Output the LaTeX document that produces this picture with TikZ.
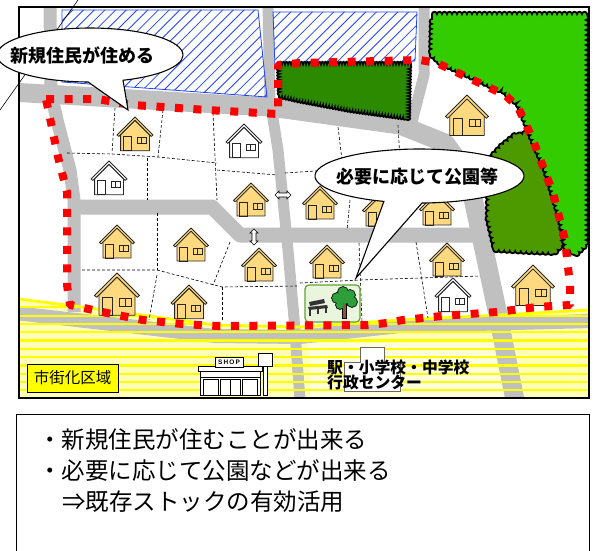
\documentclass[tikz,border=0pt]{standalone}
\usepackage{fontspec}
\newfontfamily\jp{Noto Sans CJK JP}
\newfontfamily\shopfont{Liberation Sans}
\usetikzlibrary{decorations.pathmorphing,shapes.arrows}

\definecolor{roadgray}{HTML}{C0C0C0}
\definecolor{hyellow}{HTML}{FFD980}
\definecolor{zonefill}{HTML}{FFFFB8}
\definecolor{zonelight}{HTML}{FFFFDC}
\definecolor{zoneline}{HTML}{FFFF00}
\definecolor{hatchblue}{HTML}{2244FF}
\definecolor{forest}{HTML}{33CC00}
\definecolor{hedge}{HTML}{2B8A00}
\definecolor{grove}{HTML}{4D9A00}
\definecolor{parkfill}{HTML}{E9F6DD}
\definecolor{parkline}{HTML}{5FA332}
\definecolor{crown}{HTML}{2E9E3A}
\definecolor{trunk}{HTML}{8B5A2B}
\definecolor{labelyellow}{HTML}{FFFF00}

\tikzset{
  roadway/.style={draw=roadgray, line width=#1, line join=round},
  roadway/.default=12,
  lot/.style={draw=black, line width=0.6pt, dash pattern=on 3pt off 2pt},
  boundary/.style={draw=red, line width=8pt, dash pattern=on 8pt off 10.5pt, line join=bevel},
  hatchline/.style={draw=hatchblue, line width=0.8pt},
  greenedge/.style={draw=black, line width=1.8pt, decorate,
    decoration={bumps, segment length=#1, amplitude=2.2pt}},
  greenedge/.default=9pt,
  bubble/.style={draw=black, line width=1.1pt, fill=white},
  pics/house/.style={code={
    \filldraw[fill=#1, draw=black!85, line width=0.8pt, line join=round]
      (-0.4,0.49) -- (0,0.09) -- (0.4,0.49) -- (0.4,0.94) -- (-0.4,0.94) -- cycle;
    \filldraw[fill=#1, draw=black!85, line width=0.8pt, line join=round]
      (-0.5,0.5) -- (0,0) -- (0.5,0.5) -- (0.45,0.54) -- (0,0.09) -- (-0.45,0.54) -- cycle;
    \draw[black!85, line width=0.8pt] (-0.32,0.55) rectangle (-0.1,0.94);
    \draw[black!85, line width=0.8pt] (0.06,0.57) rectangle (0.32,0.74)
      (0.19,0.57) -- (0.19,0.74);
  }},
  pics/house/.default=hyellow
}

\begin{document}
\begin{tikzpicture}[x=1pt,y=-1pt]
\useasboundingbox (0,0) rectangle (597,551);
\fill[white] (0,0) rectangle (597,551);

% ---------- ground, zone and roads ----------
\begin{scope}
  \clip (19,7) rectangle (589,398);
  \fill[zonefill] (19,299) -- (120,312) -- (215,325) -- (300,327) -- (400,320)
    -- (500,315) -- (589,310) -- (589,398) -- (19,398) -- cycle;
  \fill[zonelight] (308,343) -- (492,343) -- (504,398) -- (310,398) -- cycle;
  \draw[roadway=19] (19,92.5) -- (270,107) -- (400,125) -- (445,143) -- (468,175)
    -- (497,310) -- (515,400);
  \draw[roadway=11] (268,5) -- (270,100) -- (278,150) -- (288,250) -- (294,318) -- (300,400);
  \draw[roadway=13] (50,5) -- (51,93) -- (57,120) -- (70,170) -- (74,200) -- (74,312);
  \draw[roadway=15] (74,207) -- (212,207) -- (240,235) -- (478,235);
  \draw[roadway=11] (424,5) -- (424,75) -- (412,122);
  \draw[roadway=14] (15,313) -- (120,325) -- (215,336) -- (300,337) -- (400,326) -- (592,321);
\end{scope}

% stripes of the urbanization zone
\begin{scope}
  \clip (19,299) -- (120,312) -- (215,325) -- (300,327) -- (400,320)
    -- (500,315) -- (589,310) -- (589,398) -- (19,398) -- cycle;
  \foreach \k in {1,...,12}
    \draw[zoneline, line width=2.2pt] (19,{299+8.3*\k}) -- (589,{299+8.3*\k});
\end{scope}
\draw[zoneline, line width=2.8pt] (19,299) -- (120,312) -- (215,325) -- (300,327)
  -- (400,320) -- (500,315) -- (589,310);

% ---------- hatched plots ----------
\begin{scope}
  \clip (62,10) -- (258,10) -- (267,97) -- (62,82) -- cycle;
  \foreach \i in {-60,-49.3,...,280}
    \draw[hatchline] (\i,100) -- ({\i+100},0);
\end{scope}
\draw[hatchblue, line width=0.8pt] (62,10) -- (258,10) -- (267,97) -- (62,82) -- cycle;
\begin{scope}
  \clip (273,12) -- (417,12) -- (415,61) -- (300,67) -- (275,67) -- cycle;
  \foreach \i in {190,200.7,...,430}
    \draw[hatchline] (\i,70) -- ({\i+70},0);
\end{scope}
\draw[hatchblue, line width=0.8pt] (273,12) -- (417,12) -- (415,61) -- (300,67) -- (275,67) -- cycle;

% ---------- green areas ----------
\filldraw[fill=hedge, greenedge=6pt] (279,64) -- (409,64) -- (408,118) -- (350,110)
  -- (297,100) -- (280,96) -- cycle;
\filldraw[fill=grove, greenedge=11pt] (488,160) -- (500,147) -- (512,137) -- (525,133)
  -- (538,140) -- (548,175) -- (558,215) -- (562,245) -- (555,253) -- (530,252)
  -- (495,250) -- (488,220) -- cycle;
\filldraw[fill=forest, greenedge=10pt] (432,14) -- (586,14) -- (586,245) -- (577,254)
  -- (566,250) -- (560,220) -- (545,170) -- (530,135) -- (518,105) -- (505,93)
  -- (440,63) -- (431,55) -- cycle;

% ---------- lot lines ----------
\draw[lot] (115,108) -- (112,153);
\draw[lot] (163,110) -- (158,157);
\draw[lot] (67,153) -- (112,154) -- (158,157) -- (217,163);
\draw[lot] (213,113) -- (217,200);
\draw[lot] (217,170) -- (277,175);
\draw[lot] (147,158) -- (147,200);
\draw[lot] (338,127) -- (342,160);
\draw[lot] (285,173) -- (330,170);
\draw[lot] (398,125) -- (400,160);
\draw[lot] (350,200) -- (347,230);
\draw[lot] (157,213) -- (157,270);
\draw[lot] (82,270) -- (157,270) -- (222,287) -- (297,286);
\draw[lot] (157,275) -- (149,320);
\draw[lot] (230,242) -- (213,285);
\draw[lot] (222,287) -- (222,320);
\draw[lot] (300,283) -- (360,280) -- (480,276);
\draw[lot] (359,243) -- (362,322);
\draw[lot] (416,242) -- (428,318);

% ---------- houses ----------
\pic[scale=36] at (135,117) {house};
\pic[scale=36] at (244,124) {house=white};
\pic[scale=36] at (109,161) {house=white};
\pic[scale=35] at (251,183) {house};
\pic[scale=35] at (320,186) {house};
\pic[scale=35] at (380,193) {house};
\pic[scale=35] at (437,192) {house};
\pic[scale=35] at (117,225) {house};
\pic[scale=35] at (191,228) {house};
\pic[scale=35] at (259,248) {house};
\pic[scale=35] at (327,245) {house};
\pic[scale=35] at (447,243) {house};
\pic[scale=43] at (533,265) {house};
\pic[scale=36] at (453,278) {house=white};
\pic[scale=45] at (117,273) {house};
\pic[scale=36] at (189,285) {house};
\pic[scale=43] at (467,95) {house};

% ---------- park ----------
\filldraw[fill=parkfill, draw=parkline, line width=1.2pt, rounded corners=4pt]
  (305,285) rectangle (360,322);
\fill[black!80] (309,302) -- (324,299) -- (325,303) -- (310,306) -- cycle;
\fill[black!80] (308,307) -- (327,305) -- (328,308) -- (309,310) -- cycle;
\draw[black!80, line width=1.4pt] (310,309) -- (310,316) (318,308) -- (318,314) (326,308) -- (326,313);
\filldraw[fill=trunk, draw=black, line width=0.5pt] (342.5,298) rectangle (346,318);
\draw[black, line width=0.6pt] (339,303) -- (343,308) (350,302) -- (346,307);
\begin{scope}
  \draw[black, line width=1.6pt] (343,292) circle[radius=5] (350,295) circle[radius=5]
    (337,298) circle[radius=5] (352,302) circle[radius=5] (340,305) circle[radius=4];
  \fill[crown] (343,292) circle[radius=5] (350,295) circle[radius=5]
    (337,298) circle[radius=5] (352,302) circle[radius=5] (340,305) circle[radius=4]
    (345,299) circle[radius=5];
\end{scope}
\fill[trunk] (343.2,304) rectangle (345.3,312);

% ---------- small arrows ----------
\node[double arrow, draw=black, fill=white, line width=0.6pt, minimum height=16pt,
  minimum width=8pt, double arrow head extend=1.5pt, inner sep=1.2pt] (harrow) at (283,195) {};
\node[double arrow, draw=black, fill=white, line width=0.6pt, minimum height=16pt,
  minimum width=8pt, double arrow head extend=1.5pt, inner sep=1.2pt, rotate=90] (varrow) at (254,237) {};

% ---------- shop ----------
\filldraw[fill=white, draw=black, line width=0.7pt] (200,371) rectangle (260,395);
\draw[black, line width=0.6pt] (200,377) -- (260,377)
  (203,379) rectangle (218,395) (242,379) rectangle (257,395)
  (220,379) rectangle (240,395) (230,379) -- (230,395);
\filldraw[fill=white, draw=black, line width=0.7pt] (198,366) rectangle (262,371);
\node[draw=black, fill=white, line width=0.7pt, minimum width=28pt, minimum height=10pt,
  inner sep=0pt, font=\shopfont\bfseries\fontsize{6.5}{6.5}\selectfont] (shopsign) at (229,362) {S\,H\,O\,P};
\filldraw[fill=white, draw=black, line width=0.6pt] (263,366) rectangle (267,395);
\filldraw[fill=white, draw=black, line width=0.7pt] (258,353) rectangle (272,366);

% ---------- station block ----------
\filldraw[fill=white, draw=black!60, line width=0.5pt] (360,347) -- (384,347) -- (384,362)
  -- (400,362) -- (400,391) -- (344,391) -- (344,362) -- (360,362) -- cycle;
\node[anchor=west, inner sep=0pt, font=\jp\bfseries\fontsize{15.8}{16}\selectfont] (station1)
  at (327,367) {駅・小学校・中学校};
\node[anchor=west, inner sep=0pt, font=\jp\bfseries\fontsize{15.8}{16}\selectfont] (station2)
  at (327,383) {行政センター};

% zone label
\node[draw=black, line width=1pt, fill=labelyellow, minimum width=91pt, minimum height=28pt,
  inner sep=0pt, font=\jp\fontsize{15.5}{16}\selectfont] (zone) at (72.5,378) {市街化区域};

% ---------- district boundary ----------
\draw[boundary] (46,99) -- (97,99) -- (133,105) -- (207,110) -- (278,114) -- (278,65)
  -- (300,63) -- (420,60) -- (437,63) -- (505,95) -- (518,107) -- (533,140) -- (553,193)
  -- (565,240) -- (570,285) -- (570,305) -- (537,307) -- (497,312) -- (442,316)
  -- (403,320) -- (387,323) -- (368,325) -- (218,326) -- (182,324) -- (143,320)
  -- (107,313) -- (70,305) -- (67,285) -- (67,192) -- (58,157) -- (50,118) -- cycle;

% ---------- map frame ----------
\draw[black, line width=1.6pt] (19,7) rectangle (589,398);
\draw[black, line width=0.6pt] (78,0) -- (0,110);

% ---------- callouts ----------
\coordinate (tipA) at (128,110);
\coordinate (tipB) at (356,278);
\draw[bubble] (88.05,82) arc[start angle=91.2, end angle=429.2, x radius=93, y radius=27]
  -- (tipA) -- cycle;
\node[inner sep=0pt, font=\jp\bfseries\fontsize{18}{20}\selectfont] (calloutA) at (82.5,55) {新規住民が住める};
\draw[bubble] (383.9,201.4) arc[start angle=109.9, end angle=448.6, x radius=104.5, y radius=27]
  -- (tipB) -- cycle;
\node[inner sep=0pt, font=\jp\bfseries\fontsize{18}{20}\selectfont] (calloutB) at (417.5,177) {必要に応じて公園等};

% ---------- summary box ----------
\draw[black, line width=1pt] (16,414) rectangle (589,570);
\node[anchor=west, inner sep=0pt, font=\jp\fontsize{23.5}{26}\selectfont] (line1) at (38,440) {・新規住民が住むことが出来る};
\node[anchor=west, inner sep=0pt, font=\jp\fontsize{23.5}{26}\selectfont] (line2) at (38,471) {・必要に応じて公園などが出来る};
\node[anchor=west, inner sep=0pt, font=\jp\fontsize{23.5}{26}\selectfont] (line3) at (62,502) {⇒既存ストックの有効活用};
\end{tikzpicture}
\end{document}
